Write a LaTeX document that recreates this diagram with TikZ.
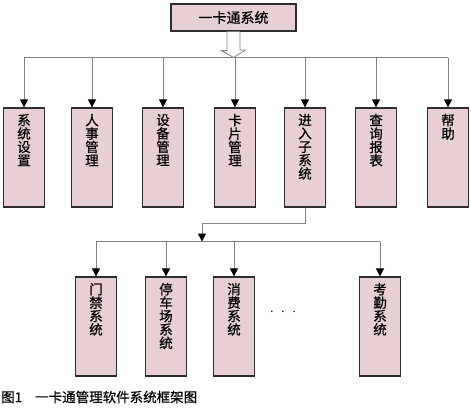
\documentclass[tikz,border=0pt]{standalone}
\usepackage{fontspec}
\setmainfont{Noto Sans CJK SC}[FakeBold=0.7]
\usetikzlibrary{arrows.meta,calc}
\definecolor{cajafondo}{RGB}{231,207,211}
\definecolor{cajaborde}{RGB}{45,45,45}
\definecolor{linea}{RGB}{130,130,130}
% Texto vertical dentro de las cajas
\newcommand{\vertical}[1]{\parbox[t][87pt][t]{20pt}{\centering\fontsize{13.5}{13.4}\selectfont #1}}
\tikzset{
  caja/.style={draw=cajaborde, line width=1.2pt, fill=cajafondo, minimum width=41pt, minimum height=99pt, inner sep=0pt},
  enlace/.style={draw=linea, line width=0.8pt, -{Triangle[width=8pt,length=8pt,color=black]}},
  bus/.style={draw=linea, line width=0.8pt}
}
\begin{document}
\begin{tikzpicture}[x=1pt,y=-1pt]
    \useasboundingbox (0,0) rectangle (471,407);
    % Caja superior
    \node[caja, minimum width=125pt, minimum height=27pt, font=\fontsize{14}{14}\selectfont] (raiz) at (233.5,17.5) {一卡通系统};
    % Flecha hueca
    \coordinate (bus) at (233.5,57.5);
    \filldraw[fill=white, draw=linea, line width=0.8pt] ($(raiz.south)+(-6.5,0)$) -- ++(0,19) -- ++(-5.5,0) -- (bus) -- ++(12,-7.5) -- ++(-5.5,0) -- ($(raiz.south)+(6.5,0)$);
    % Primera fila
    \node[caja] (sis) at (24,157.5) {\vertical{系\\统\\设\\置}};
    \node[caja] (per) at (92,157.5) {\vertical{人\\事\\管\\理}};
    \node[caja] (equ) at (163,157.5) {\vertical{设\\备\\管\\理}};
    \node[caja] (tar) at (235,157.5) {\vertical{卡\\片\\管\\理}};
    \node[caja] (sub) at (305,157.5) {\vertical{进\\入\\子\\系\\统}};
    \node[caja] (con) at (376,157.5) {\vertical{查\\询\\报\\表}};
    \node[caja] (ayu) at (448,157.5) {\vertical{帮\\助}};
    % Líneas de la primera fila
    \draw[bus] (sis.north |- bus) -- (ayu.north |- bus);
    \draw[enlace] (sis.north |- bus) -- (sis.north);
    \draw[enlace] (per.north |- bus) -- (per.north);
    \draw[enlace] (equ.north |- bus) -- (equ.north);
    \draw[enlace] (tar.north |- bus) -- (tar.north);
    \draw[enlace] (sub.north |- bus) -- (sub.north);
    \draw[enlace] (con.north |- bus) -- (con.north);
    \draw[enlace] (ayu.north |- bus) -- (ayu.north);
    % Segunda fila
    \coordinate (codo) at (202,223);
    \coordinate (bus2) at (202,241.5);
    \draw[enlace] (sub.south) |- (codo) -- (bus2);
    \node[caja] (pue) at (96,326.5) {\vertical{门\\禁\\系\\统}};
    \node[caja] (est) at (166,326.5) {\vertical{停\\车\\场\\系\\统}};
    \node[caja] (gas) at (234,326.5) {\vertical{消\\费\\系\\统}};
    \node[caja] (asi) at (380,326.5) {\vertical{考\\勤\\系\\统}};
    \node[font=\fontsize{14}{14}\selectfont] (pts) at (283,312) {$\cdot\;\cdot\;\cdot$};
    \draw[bus] (pue.north |- bus2) -- (asi.north |- bus2);
    \draw[enlace] (pue.north |- bus2) -- (pue.north);
    \draw[enlace] (est.north |- bus2) -- (est.north);
    \draw[enlace] (gas.north |- bus2) -- (gas.north);
    \draw[enlace] (asi.north |- bus2) -- (asi.north);
    % Pie de figura
    \node[anchor=west, inner sep=0pt, font=\fontsize{13.5}{13.5}\selectfont] (pie) at (1,397) {图1\hspace{13pt}一卡通管理软件系统框架图};
\end{tikzpicture}
\end{document}
